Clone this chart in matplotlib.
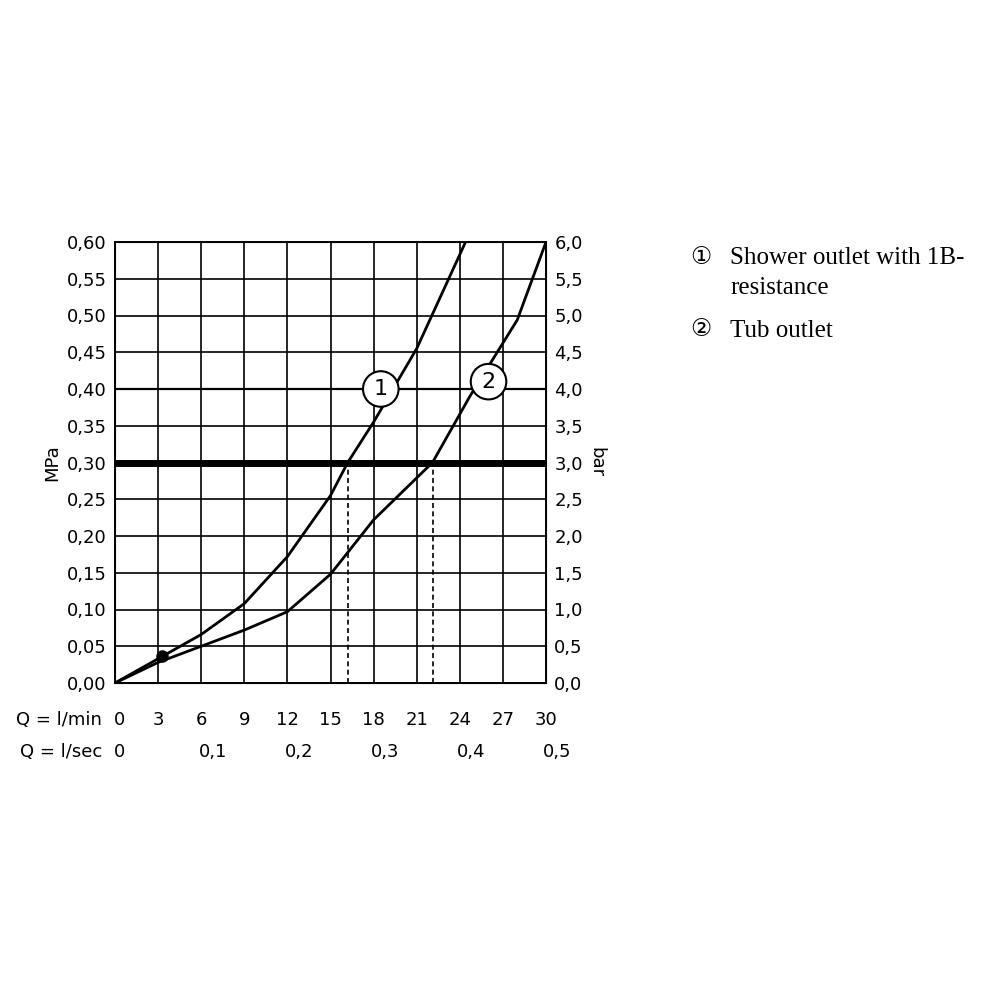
import numpy as np
import matplotlib.pyplot as plt

# flow in l/min, pressure in MPa
q1 = [0, 3, 6, 9, 12, 15, 16.2, 18, 21, 24.4]
p1 = [0, 0.033, 0.066, 0.108, 0.172, 0.255, 0.30, 0.355, 0.455, 0.60]
q2 = [0, 3, 6, 9, 12, 15, 18, 22.1, 24.7, 28, 30]
p2 = [0, 0.028, 0.05, 0.072, 0.097, 0.148, 0.222, 0.30, 0.39, 0.494, 0.60]
point = (3.3, 0.037)
cross = [16.2, 22.1]
lmin_ticks = [0, 3, 6, 9, 12, 15, 18, 21, 24, 27, 30]
lsec_pos = [0, 6, 12, 18, 24, 30]
lsec_labels = ["0", "0,1", "0,2", "0,3", "0,4", "0,5"]
mpa_ticks = np.arange(0, 0.601, 0.05)

fig = plt.figure(figsize=(10, 10), dpi=100)
ax = fig.add_axes([0.115, 0.317, 0.431, 0.441])
ax.set_xlim(0, 30)
ax.set_ylim(0, 0.6)

for x in lmin_ticks[1:-1]:
    ax.axvline(x, color="black", lw=1.2, zorder=1)
for y in mpa_ticks[1:-1]:
    ax.axhline(y, color="black", lw=1.2, zorder=1)
ax.axhline(0.40, color="black", lw=1.6, zorder=1)
ax.axhline(0.30, color="black", lw=5, zorder=2)
for s in ax.spines.values():
    s.set_linewidth(1.4)

ax.plot(q1, p1, color="black", lw=2, zorder=3)
ax.plot(q2, p2, color="black", lw=2, zorder=3)
ax.plot(*point, "o", color="black", ms=8, zorder=4)
for x in cross:
    ax.plot([x, x], [0, 0.3], color="black", lw=1.2, ls=(0, (3, 2)), zorder=3)

for lab, (x, y) in [("1", (18.5, 0.40)), ("2", (26.0, 0.41))]:
    ax.text(x, y, lab, ha="center", va="center", fontsize=16, zorder=5,
            bbox=dict(boxstyle="circle,pad=0.35", fc="white", ec="black", lw=1.5))

ax.set_yticks(mpa_ticks)
ax.set_yticklabels([f"{v:.2f}".replace(".", ",") for v in mpa_ticks], fontsize=13)
ax.set_xticks(lmin_ticks)
ax.set_xticklabels([])
ax.tick_params(length=0, pad=6)
ax.set_ylabel("MPa", fontsize=13, labelpad=4)

ax2 = ax.twinx()
ax2.set_ylim(0, 6)
bar_ticks = np.arange(0, 6.01, 0.5)
ax2.set_yticks(bar_ticks)
ax2.set_yticklabels([f"{v:.1f}".replace(".", ",") for v in bar_ticks], fontsize=13)
ax2.tick_params(length=0, pad=6)
ax2.set_ylabel("bar", fontsize=13, rotation=-90, labelpad=16)

tr = ax.get_xaxis_transform()
ax.text(-0.9, -0.085, "Q = l/min", transform=tr, fontsize=13, va="center", ha="right")
for x in lmin_ticks:
    ax.text(x + (0.3 if x == 0 else 0), -0.085, str(x), transform=tr, fontsize=13, va="center", ha="center")
ax.text(-0.9, -0.157, "Q = l/sec", transform=tr, fontsize=13, va="center", ha="right")
for x, lab in zip(lsec_pos, lsec_labels):
    ax.text(x + (0.8 if x else 0.3), -0.157, lab, transform=tr, fontsize=13, va="center", ha="center")

fam = ["Liberation Serif", "DejaVu Sans"]
fig.text(0.690, 0.742, "\u2460", fontsize=17, family=fam, va="center")
fig.text(0.730, 0.742, "Shower outlet with 1B-", fontsize=18, family=fam, va="center")
fig.text(0.730, 0.712, "resistance", fontsize=18, family=fam, va="center")
fig.text(0.690, 0.669, "\u2461", fontsize=17, family=fam, va="center")
fig.text(0.730, 0.669, "Tub outlet", fontsize=18, family=fam, va="center")

fig.savefig("out.png", dpi=100, facecolor="white")
